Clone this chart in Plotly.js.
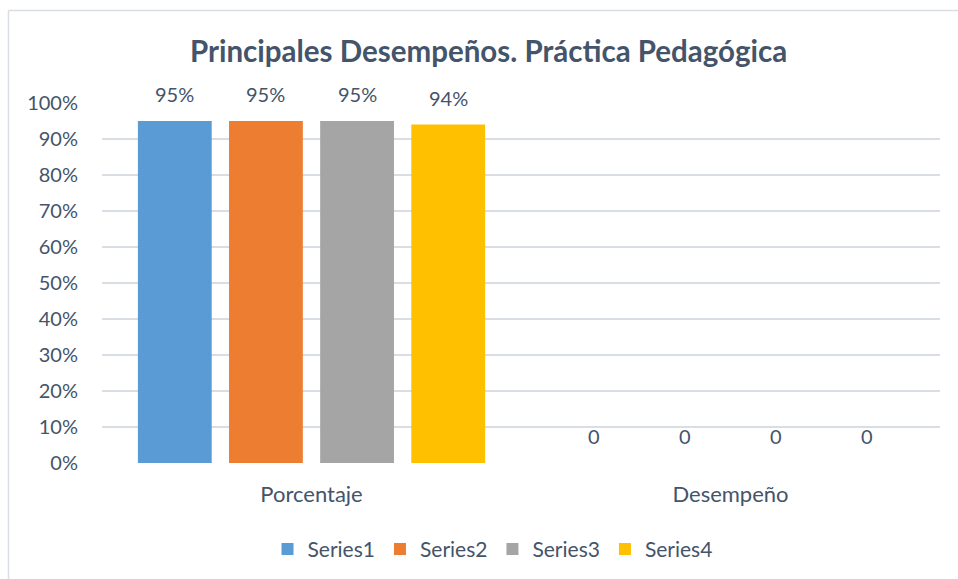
<!DOCTYPE html>
<html>
<head>
<meta charset="utf-8">
<script src="https://cdn.plot.ly/plotly-3.0.1.min.js"></script>
<style>
html,body{margin:0;padding:0;background:#fff;}
#chart{width:958px;height:579px;}
</style>
</head>
<body>
<div id="chart"></div>
<script>
const categories = ['Porcentaje', 'Desempeño'];
const seriesNames = ['Series1', 'Series2', 'Series3', 'Series4'];
const series1 = [0.95, 0];
const series2 = [0.95, 0];
const series3 = [0.95, 0];
const series4 = [0.94, 0];
const colors = ['#5B9BD5', '#ED7D31', '#A5A5A5', '#FFC000'];
const yTickVals = [0, 0.1, 0.2, 0.3, 0.4, 0.5, 0.6, 0.7, 0.8, 0.9, 1.0];
const yTickText = ['0%', '10%', '20%', '30%', '40%', '50%', '60%', '70%', '80%', '90%', '100%'];

const FONT = 'Lato, "Open Sans", sans-serif';
const TXT = '#44546A';
const BARGAP = 0.13, BARGROUPGAP = 0.19;

function label(v) { return v === 0 ? '0' : Math.round(v * 100) + '%'; }

const allSeries = [series1, series2, series3, series4];
const traces = allSeries.map((vals, i) => ({
  type: 'bar',
  name: seriesNames[i],
  x: categories,
  y: vals,
  cliponaxis: false,
  marker: {color: colors[i]},
  hoverinfo: 'none'
}));

// data labels, anchored on each bar through the axis scales
const slot = (1 - BARGAP) / allSeries.length;
const annotations = [];
allSeries.forEach((vals, i) => {
  vals.forEach((v, c) => {
    annotations.push({
      xref: 'x', yref: 'y',
      x: c + (i - (allSeries.length - 1) / 2) * slot,
      y: v,
      text: label(v),
      showarrow: false,
      yanchor: 'bottom',
      yshift: 13,
      font: {family: FONT, size: 20, color: TXT}
    });
  });
});

const layout = {
  width: 958, height: 579,
  margin: {l: 102, r: 18, t: 103, b: 116, autoexpand: false},
  paper_bgcolor: '#fff', plot_bgcolor: '#fff',
  font: {family: FONT, color: TXT, size: 20},
  title: {text: '<b>Principales Desempeños. Práctica Pedagógica</b>', x: 0.51, xanchor: 'center', y: 0.91, yanchor: 'middle',
          font: {family: FONT, size: 29.5, color: TXT}},
  barmode: 'group', bargap: BARGAP, bargroupgap: BARGROUPGAP,
  xaxis: {type: 'category', showgrid: false, zeroline: false, showline: false,
          ticks: 'outside', ticklen: 12, tickcolor: 'rgba(0,0,0,0)',
          tickfont: {family: FONT, size: 22, color: TXT}},
  yaxis: {range: [0, 1], tickvals: yTickVals, ticktext: yTickText,
          showgrid: true, gridcolor: '#D9DEE5', gridwidth: 1.5, zeroline: false, showline: false,
          ticks: 'outside', ticklen: 19, tickcolor: 'rgba(0,0,0,0)',
          tickfont: {family: FONT, size: 20, color: TXT}},
  legend: {orientation: 'h', x: 0.466, xanchor: 'center', y: -0.183, yanchor: 'top',
           font: {family: FONT, size: 21, color: TXT}, itemwidth: 30, traceorder: 'normal'},
  annotations: annotations,
  shapes: [
    {type: 'line', xref: 'paper', yref: 'paper', x0: -0.1116, x1: -0.1116, y0: -0.4, y1: 1.2569, line: {color: '#D9DEE5', width: 1.5}},
    {type: 'line', xref: 'paper', yref: 'paper', x0: -0.1116, x1: 1.1, y0: 1.2569, y1: 1.2569, line: {color: '#D9DEE5', width: 1.5}}
  ],
  showlegend: true
};

Plotly.newPlot('chart', traces, layout, {displayModeBar: false, staticPlot: true});
</script>
</body>
</html>
